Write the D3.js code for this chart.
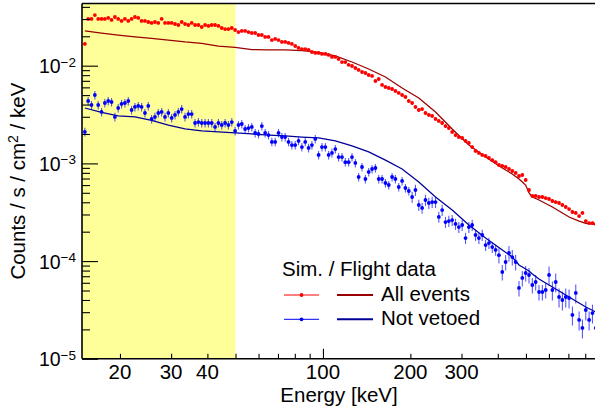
<!DOCTYPE html>
<html><head><meta charset="utf-8">
<script src="https://cdn.jsdelivr.net/npm/d3@7"></script>
<style>
body{margin:0;background:#fff}
text{font-family:"Liberation Sans",Arial,Helvetica,sans-serif;fill:#000}
</style>
</head><body>
<svg id="chart" width="595" height="412"></svg>
<script>
// ---------------- DATA ----------------
const energies = [
 15.14,15.54,15.96,16.39,16.83,17.28,17.74,18.22,18.71,19.21,
 19.72,20.25,20.80,21.36,21.93,22.52,23.12,23.74,24.38,25.03,
 25.70,26.39,27.10,27.83,28.58,29.35,30.13,30.94,31.77,32.62,
 33.50,34.40,35.32,36.27,37.24,38.24,39.27,40.32,41.40,42.51,
 43.65,44.82,46.03,47.26,48.53,49.83,51.17,52.54,53.95,55.40,
 56.89,58.41,59.98,61.59,63.24,64.94,66.68,68.47,70.31,72.20,
 74.13,76.12,78.16,80.26,82.41,84.62,86.89,89.23,91.62,94.08,
 96.61,99.20,101.9,104.6,107.4,110.3,113.2,116.3,119.4,122.6,
 125.9,129.3,132.7,136.3,140.0,143.7,147.6,151.6,155.6,159.8,
 164.1,168.5,173.0,177.6,182.4,187.3,192.3,197.5,202.8,208.2,
 213.8,219.5,225.4,231.5,237.7,244.1,250.6,257.3,264.2,271.3,
 278.6,286.1,293.7,301.6,309.7,318.0,326.5,335.3,344.3,353.5,
 363.1,372.8,382.8,393.1,403.6,414.5,425.6,437.0,448.7,460.8,
 473.2,485.8,498.9,512.3,526.0,540.1,554.6,569.5,584.8,600.5,
 616.6,633.1,650.1,667.5,685.4,703.8,722.8,742.2,762.1,782.5,
 803.5,825.1,847.2,869.9
];
// Flight data, all events (counts / s / cm^2 / keV)
const allEventsData = [
 0.0167,0.0301,0.0301,0.0330,0.0301,0.0301,0.0301,0.0308,0.0294,0.0315,
 0.0301,0.0287,0.0301,0.0287,0.0301,0.0315,0.0308,0.0287,0.0287,0.0280,
 0.0274,0.0280,0.0274,0.0301,0.0274,0.0274,0.0274,0.0267,0.0261,0.0280,
 0.0267,0.0261,0.0274,0.0261,0.0261,0.0249,0.0261,0.0255,0.0261,0.0261,
 0.0255,0.0243,0.0237,0.0237,0.0243,0.0232,0.0221,0.0227,0.0227,0.0221,
 0.0216,0.0216,0.0206,0.0206,0.0197,0.0197,0.0183,0.0188,0.0183,0.0175,
 0.0175,0.0171,0.0167,0.0159,0.0152,0.0148,0.0148,0.0145,0.0138,0.0135,
 0.0135,0.0132,0.0132,0.0129,0.0123,0.0123,0.0117,0.0109,0.0109,0.0102,
 0.00993,0.00947,0.00904,0.00862,0.00842,0.00803,0.00785,0.00697,0.00731,0.00635,
 0.00605,0.00591,0.00577,0.00551,0.00526,0.00501,0.00478,0.00435,0.00415,0.00378,
 0.00352,0.00360,0.00328,0.00313,0.00306,0.00285,0.00272,0.00259,0.00241,0.00230,
 0.00210,0.00195,0.00186,0.00182,0.00170,0.00162,0.00147,0.00134,0.00128,0.00122,
 0.00119,0.00114,0.00108,0.00103,0.000963,0.000941,0.000919,0.000876,0.000836,0.000798,
 0.000743,0.000761,0.000676,0.000534,0.000464,0.000464,0.000453,0.000453,0.000442,0.000432,
 0.000412,0.000402,0.000393,0.000375,0.000358,0.000341,0.000318,0.000311,0.000289,0.000311,
 0.000257,0.000245,0.000245,0.000240
];
// Flight data, not vetoed
const notVetoedData = [
 0.00210,0.00435,0.00396,0.00501,0.00396,0.00336,0.00415,0.00435,0.00425,0.00299,
 0.00369,0.00406,0.00415,0.00435,0.00352,0.00378,0.00387,0.00378,0.00328,0.00387,
 0.00285,0.00299,0.00328,0.00336,0.00299,0.00328,0.00292,0.00313,0.00336,0.00360,
 0.00299,0.00320,0.00320,0.00259,0.00265,0.00259,0.00259,0.00259,0.00259,0.00236,
 0.00259,0.00247,0.00259,0.00247,0.00265,0.00215,0.00247,0.00253,0.00225,0.00230,
 0.00236,0.00205,0.00200,0.00241,0.00205,0.00195,0.00166,0.00166,0.00205,0.00186,
 0.00186,0.00166,0.00154,0.00154,0.00170,0.00147,0.00166,0.00144,0.00154,0.00178,
 0.00122,0.00147,0.00147,0.00122,0.00128,0.00140,0.00116,0.00116,0.00103,0.00103,
 0.00116,0.00101,0.000726,0.000919,0.000692,0.000817,0.000876,0.000897,0.000692,0.000692,
 0.000630,0.000601,0.000726,0.000692,0.000573,0.000661,0.000560,0.000522,0.000453,0.000534,
 0.000375,0.000350,0.000422,0.000393,0.000402,0.000402,0.000283,0.000333,0.000251,0.000257,
 0.000263,0.000240,0.000223,0.000234,0.000172,0.000223,0.000234,0.000185,0.000172,0.000185,
 0.000146,0.000153,0.000139,0.000130,0.000115,0.0000773,0.0000979,0.000121,0.000110,0.0000979,
 0.0000531,0.0000672,0.0000755,0.0000721,0.0000569,0.0000611,0.0000483,0.0000483,0.0000506,0.0000721,
 0.0000506,0.0000611,0.0000429,0.0000400,0.0000429,0.0000419,0.0000281,0.0000472,0.0000250,0.0000207,
 0.0000316,0.0000250,0.0000294,0.0000207
];
// Relative statistical errors by energy band: [upper energy, relative error]
const allEventsErrBands = [[200,0.02],[1000,0.04]];
const notVetoedErrBands = [[200,0.10],[400,0.13],[600,0.18],[1000,0.22]];

// Simulation
const simEnergies = [
 15.14,17.28,19.72,22.52,25.70,29.35,33.50,38.24,43.65,49.83,
 56.89,64.94,74.13,84.62,96.61,110.3,125.9,143.7,164.1,187.3,
 213.8,244.1,278.6,318.0,363.1,414.5,448.7,473.2,485.8,498.9,
 512.3,526.0,554.6,616.6,703.8,762.1,803.5,869.9
];
const simAllEvents = [
 0.0227,0.0216,0.0206,0.0197,0.0190,0.0183,0.0175,0.0169,0.0159,0.0154,
 0.0146,0.0145,0.0145,0.0143,0.0137,0.0126,0.0109,0.00925,0.00766,0.00591,
 0.00467,0.00336,0.00225,0.00154,0.00116,0.000897,0.000779,0.000692,0.000645,0.000601,
 0.000498,0.000453,0.000422,0.000358,0.000283,0.000257,0.000243,0.000237
];
const simNotVetoed = [
 0.00369,0.00332,0.00306,0.00300,0.00276,0.00247,0.00226,0.00215,0.00210,0.00205,
 0.00200,0.00195,0.00191,0.00186,0.00182,0.00170,0.00151,0.00131,0.00108,0.000876,
 0.000645,0.000453,0.000333,0.000234,0.000172,0.000130,0.000110,0.0000912,0.0000870,0.0000830,
 0.0000792,0.0000738,0.0000656,0.0000543,0.0000429,0.0000372,0.0000339,0.0000301
];

const xDomain = [14.8, 864.5];
const yDomain = [1e-5, 0.0433];
const shadedBand = [14.8, 50];
const xTickLabels = [20, 30, 40, 100, 200, 300];
const yLabelExponents = [-5, -4, -3, -2];
const xTitle = "Energy [keV]";
const legendTitle = "Sim. / Flight data";
const seriesNames = ["All events", "Not vetoed"];

// ---------------- LAYOUT ----------------
const L = 82, R = 595, T = 3.5, B = 358.8;
const svg = d3.select("#chart");
const x = d3.scaleLog().domain(xDomain).range([L, R]);
const y = d3.scaleLog().domain(yDomain).range([B, T]);

svg.append("rect").attr("width", 595).attr("height", 412).attr("fill", "#fff");
svg.append("defs").append("clipPath").attr("id", "clip")
  .append("rect").attr("x", L).attr("y", T).attr("width", R - L).attr("height", B - T);

svg.append("rect")
  .attr("x", x(shadedBand[0])).attr("y", T)
  .attr("width", x(shadedBand[1]) - x(shadedBand[0])).attr("height", B - T)
  .attr("fill", "#ffff99");

const plot = svg.append("g").attr("clip-path", "url(#clip)");

const colors = {
  dataAll: "#ff0000", simAll: "#990000",
  dataNV: "#0000ff", simNV: "#000099"
};

const line = d3.line().x(d => x(d[0])).y(d => y(d[1]));
function drawSim(vals, color) {
  plot.append("path")
    .datum(simEnergies.map((e, i) => [e, vals[i]]))
    .attr("d", line).attr("fill", "none")
    .attr("stroke", color).attr("stroke-width", 1.25);
}
drawSim(simAllEvents, colors.simAll);
drawSim(simNotVetoed, colors.simNV);

function relErr(bands, e) {
  for (const b of bands) if (e <= b[0]) return b[1];
  return bands[bands.length - 1][1];
}
function drawData(vals, bands, color) {
  const pts = energies.map((e, i) => ({ e, v: vals[i], r: relErr(bands, e) }));
  const g = plot.append("g");
  g.selectAll("line").data(pts).join("line")
    .attr("x1", d => x(d.e)).attr("x2", d => x(d.e))
    .attr("y1", d => y(d.v * (1 + d.r))).attr("y2", d => y(d.v * (1 - d.r)))
    .attr("stroke", color).attr("stroke-width", 1.1).attr("opacity", 0.65);
  g.selectAll("circle").data(pts).join("circle")
    .attr("cx", d => x(d.e)).attr("cy", d => y(d.v))
    .attr("r", 1.9).attr("fill", color);
}
drawData(allEventsData, allEventsErrBands, colors.dataAll);
drawData(notVetoedData, notVetoedErrBands, colors.dataNV);

// ---------------- AXES ----------------
const isDecade = v => Math.abs(Math.log10(v) - Math.round(Math.log10(v))) < 1e-6;
const xt = x.ticks(), yt = y.ticks();

const gx1 = svg.append("g").attr("transform", `translate(0,${B})`)
  .call(d3.axisBottom(x).tickValues(xt.filter(isDecade)).tickSizeInner(-10).tickSizeOuter(0).tickFormat(""));
const gx2 = svg.append("g").attr("transform", `translate(0,${B})`)
  .call(d3.axisBottom(x).tickValues(xt.filter(v => !isDecade(v))).tickSizeInner(-5).tickSizeOuter(0).tickFormat(""));
const gy1 = svg.append("g").attr("transform", `translate(${L},0)`)
  .call(d3.axisLeft(y).tickValues(yt.filter(isDecade)).tickSizeInner(-16).tickSizeOuter(0).tickFormat(""));
const gy2 = svg.append("g").attr("transform", `translate(${L},0)`)
  .call(d3.axisLeft(y).tickValues(yt.filter(v => !isDecade(v))).tickSizeInner(-8).tickSizeOuter(0).tickFormat(""));
[gx1, gx2, gy1, gy2].forEach(g => {
  g.select(".domain").remove();
  g.selectAll(".tick line").attr("stroke", "#000").attr("stroke-width", 1.1);
});

// frame lines
svg.append("line").attr("x1", L).attr("x2", R).attr("y1", B).attr("y2", B).attr("stroke", "#000").attr("stroke-width", 1.6);
svg.append("line").attr("x1", L).attr("x2", L).attr("y1", T).attr("y2", B).attr("stroke", "#000").attr("stroke-width", 1.6);
svg.append("line").attr("x1", L).attr("x2", R).attr("y1", T).attr("y2", T).attr("stroke", "#000").attr("stroke-width", 1.6);

// x tick labels
svg.append("g").selectAll("text").data(xTickLabels).join("text")
  .attr("x", d => x(d)).attr("y", 379).attr("text-anchor", "middle")
  .attr("font-size", 20.5).text(d => d);

// y tick labels
yLabelExponents.forEach(p => {
  const t = svg.append("text").attr("x", 76).attr("y", y(Math.pow(10, p)) + 7.5)
    .attr("text-anchor", "end");
  t.append("tspan").attr("font-size", 19.5).text("10");
  t.append("tspan").attr("font-size", 13.5).attr("dy", -6.5).text("\u2212" + Math.abs(p));
});

// axis titles
svg.append("text").attr("x", 339).attr("y", 402).attr("text-anchor", "middle")
  .attr("font-size", 20.5).text(xTitle);
const yt1 = svg.append("text").attr("transform", `translate(25,${(T + B) / 2}) rotate(-90)`)
  .attr("text-anchor", "middle").attr("font-size", 20.5);
yt1.append("tspan").text("Counts / s / cm");
yt1.append("tspan").attr("font-size", 14).attr("dy", -7.5).text("2");
yt1.append("tspan").attr("dy", 7.5).text(" / keV");

// ---------------- LEGEND ----------------
const lg = svg.append("g");
lg.append("text").attr("x", 282).attr("y", 276).attr("font-size", 20.5).text(legendTitle);
const rows = [
  { name: seriesNames[0], yy: 295, data: colors.dataAll, sim: colors.simAll },
  { name: seriesNames[1], yy: 319.3, data: colors.dataNV, sim: colors.simNV }
];
rows.forEach(r => {
  lg.append("line").attr("x1", 284).attr("x2", 319).attr("y1", r.yy).attr("y2", r.yy)
    .attr("stroke", r.data).attr("stroke-width", 1);
  lg.append("circle").attr("cx", 301.5).attr("cy", r.yy).attr("r", 1.9).attr("fill", r.data);
  lg.append("line").attr("x1", 337).attr("x2", 373).attr("y1", r.yy).attr("y2", r.yy)
    .attr("stroke", r.sim).attr("stroke-width", 2);
  lg.append("text").attr("x", 381).attr("y", r.yy + 5.5).attr("font-size", 20.5).text(r.name);
});
</script>
</body></html>
